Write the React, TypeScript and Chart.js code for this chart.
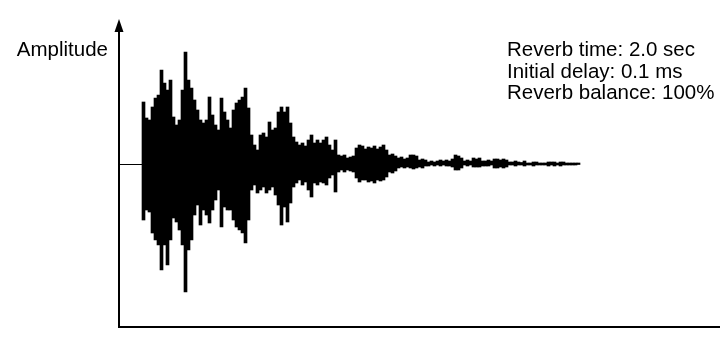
import React, { useEffect, useRef } from "react";
import { Chart, registerables } from "chart.js";

Chart.register(...registerables);

// Reverb impulse response, envelope per sample column (relative amplitude units)
const upperEnvelope: number[] = [
  62, 46, 44, 57, 66, 69, 94, 81, 74, 84,
  47, 39, 44, 74, 112, 84, 76, 64, 54, 44,
  41, 44, 67, 49, 39, 34, 66, 52, 44, 36,
  54, 61, 64, 67, 76, 56, 29, 19, 14, 29,
  31, 27, 42, 34, 36, 52, 57, 52, 57, 41,
  27, 22, 19, 21, 18, 24, 29, 21, 24, 21,
  24, 27, 19, 14, 24, 9, 8, 9, 6, 7,
  8, 16, 19, 18, 15, 17, 16, 18, 15, 17,
  19, 14, 9, 10, 8, 6, 7, 5, 6, 9,
  9, 8, 4, 5, 4, 2, 3, 2, 3, 4,
  3, 4, 3, 5, 9, 8, 6, 3, 4, 3,
  6, 5, 6, 3, 3, 4, 3, 5, 5, 4,
  5, 4, 2, 2, 3, 2, 1.5, 3, 1, 1,
  2, 2, 1, 1, 1, 2, 2, 2, 1, 2,
  2, 1, 1, 1, 1, 1,
];

const lowerEnvelope: number[] = [
  -56, -46, -48, -69, -76, -81, -106, -81, -101, -76,
  -54, -58, -66, -81, -128, -86, -76, -51, -41, -61,
  -46, -51, -59, -46, -36, -26, -63, -43, -46, -46,
  -56, -63, -66, -69, -79, -56, -26, -21, -29, -26,
  -23, -29, -26, -23, -31, -41, -61, -43, -58, -39,
  -23, -19, -16, -21, -18, -26, -33, -19, -21, -18,
  -19, -21, -14, -11, -28, -8, -6, -8, -6, -7,
  -8, -14, -18, -16, -16, -18, -17, -19, -16, -17,
  -16, -13, -8, -9, -7, -4, -3, -4, -3, -4,
  -5, -4, -3, -4, -2, -2, -1, -2, -1, -2,
  -1, -2, -2, -3, -6, -6, -4, -1, -2, -1,
  -3, -3, -3, -2, -2, -2, -1, -4, -4, -3,
  -4, -3, -1, -1, -2, -1, -1, -2, -1, -1,
  -2, -1, -1, -1, -1, -2, -1, -2, -1, -2,
  -1, -1, -1, -1, -1, -0.5,
];

const sampleIndex: number[] = upperEnvelope.map((_, i) => i);

const axisLabel = "Amplitude";
const infoLines: string[] = [
  "Reverb time: 2.0 sec",
  "Initial delay: 0.1 ms",
  "Reverb balance: 100%",
];

const FONT = '20.5px "Liberation Sans", Arial, Helvetica, sans-serif';

const decorations = {
  id: "decorations",
  afterDraw(chart: any) {
    const { ctx, chartArea: a, scales } = chart;
    const y0 = Math.round(scales.y.getPixelForValue(0)) + 0.5;
    const xStart = scales.x.getPixelForValue(-0.5);
    ctx.save();
    ctx.strokeStyle = "#000";
    ctx.fillStyle = "#000";
    // zero reference stub
    ctx.lineWidth = 1;
    ctx.beginPath();
    ctx.moveTo(a.left, y0);
    ctx.lineTo(xStart, y0);
    ctx.stroke();
    // vertical axis
    ctx.lineWidth = 2;
    ctx.beginPath();
    ctx.moveTo(a.left, a.bottom + 1);
    ctx.lineTo(a.left, a.top);
    ctx.stroke();
    // horizontal axis
    ctx.beginPath();
    ctx.moveTo(a.left - 1, a.bottom);
    ctx.lineTo(a.right, a.bottom);
    ctx.stroke();
    // arrowhead
    ctx.beginPath();
    ctx.moveTo(a.left - 4.5, a.top + 1);
    ctx.lineTo(a.left + 4.5, a.top + 1);
    ctx.lineTo(a.left, a.top - 12);
    ctx.closePath();
    ctx.fill();
    // texts
    ctx.font = FONT;
    ctx.textBaseline = "alphabetic";
    ctx.textAlign = "right";
    ctx.fillText(axisLabel, a.left - 11, 56);
    ctx.textAlign = "left";
    infoLines.forEach((t, i) => ctx.fillText(t, 507, 56 + i * 21.6));
    ctx.restore();
  },
};

export default function App() {
  const ref = useRef<HTMLCanvasElement | null>(null);
  useEffect(() => {
    if (!ref.current) return;
    const chart = new Chart(ref.current, {
      type: "bar",
      data: {
        datasets: [
          {
            data: sampleIndex.map((i) => ({ x: i, y: [lowerEnvelope[i], upperEnvelope[i]] })) as any,
            backgroundColor: "#000",
            borderWidth: 0,
            barPercentage: 1,
            categoryPercentage: 1,
          },
        ],
      },
      options: {
        responsive: false,
        maintainAspectRatio: false,
        animation: false,
        layout: { padding: { left: 119, top: 31, right: 0, bottom: 31 } },
        plugins: { legend: { display: false }, tooltip: { enabled: false }, title: { display: false } },
        scales: {
          x: { type: "linear", display: false, min: -8.1667, max: 192.1667, offset: false },
          y: { type: "linear", display: false, min: -163, max: 133 },
        },
      },
      plugins: [decorations],
    });
    return () => chart.destroy();
  }, []);
  return (
    <div style={{ position: "fixed", left: 0, top: 0, width: 720, height: 358, background: "#fff" }}>
      <canvas ref={ref} width={720} height={358} style={{ width: 720, height: 358, display: "block" }} />
    </div>
  );
}
